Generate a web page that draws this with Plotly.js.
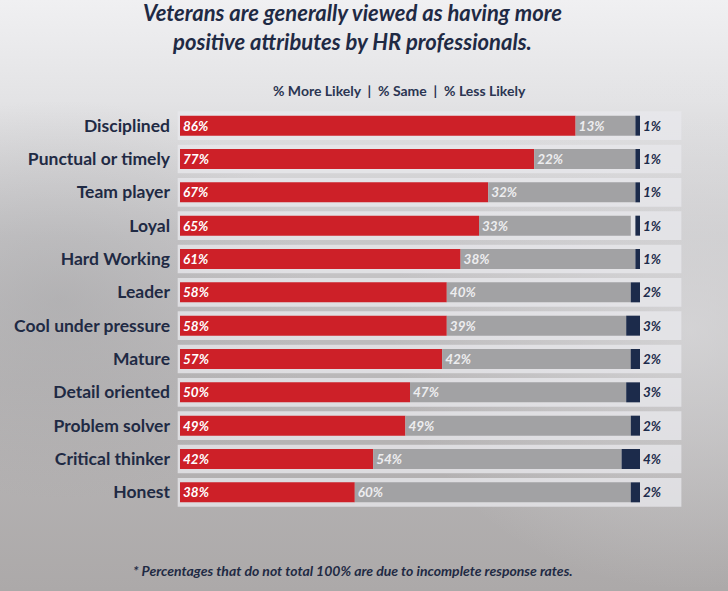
<!DOCTYPE html>
<html>
<head>
<meta charset="utf-8">
<script src="https://cdn.plot.ly/plotly-3.0.1.min.js"></script>
<style>
  html, body { margin: 0; padding: 0; }
  #chart {
    width: 728px; height: 591px;
    background:
      radial-gradient(ellipse 300px 260px at 690px 330px, rgba(225,225,227,0.6), rgba(225,225,227,0) 100%),
      radial-gradient(ellipse 260px 200px at 60px 300px, rgba(150,150,152,0.35), rgba(150,150,152,0) 100%),
      linear-gradient(to bottom, #f0f0f2 0%, #e3e3e5 17%, #c8c7c9 40%, #b9b7b8 65%, #aca9a9 100%);
  }
</style>
</head>
<body>
<div id="chart"></div>
<script>
const categories = ["Disciplined", "Punctual or timely", "Team player", "Loyal", "Hard Working", "Leader",
  "Cool under pressure", "Mature", "Detail oriented", "Problem solver", "Critical thinker", "Honest"];
const moreLikely = [86, 77, 67, 65, 61, 58, 58, 57, 50, 49, 42, 38];
const same = [13, 22, 32, 33, 38, 40, 39, 42, 47, 49, 54, 60];
const lessLikely = [1, 1, 1, 1, 1, 2, 3, 2, 3, 2, 4, 2];
const titleText = "Veterans are generally viewed as having more<br>positive attributes by HR professionals.";
const legendText = "% More Likely  |  % Same  |  % Less Likely";
const footnote = "* Percentages that do not total 100% are due to incomplete response rates.";

const RED = "#cd2028", GRAY = "#a2a2a4", NAVY = "#1c2b4b", TEXT = "#1f2a44";
const pct = v => v + "%";
const FONT = "Lato, 'Open Sans', sans-serif";

const traces = [
  {
    type: "bar", orientation: "h", y: categories, x: moreLikely,
    marker: { color: RED, line: { width: 0 } }, width: 0.6,
    text: moreLikely.map(pct), textposition: "inside", insidetextanchor: "start",
    textfont: { family: FONT, size: 13.5, color: "#ffffff", weight: 700, style: "italic" },
    constraintext: "none", cliponaxis: false, hoverinfo: "skip"
  },
  {
    type: "bar", orientation: "h", y: categories, x: same, base: moreLikely,
    marker: { color: GRAY, line: { width: 0 } }, width: 0.6,
    text: same.map(pct), textposition: "inside", insidetextanchor: "start",
    textfont: { family: FONT, size: 13.5, color: "#ededef", weight: 700, style: "italic" },
    constraintext: "none", cliponaxis: false, hoverinfo: "skip"
  },
  {
    type: "bar", orientation: "h", y: categories, x: lessLikely,
    base: lessLikely.map(v => 100 - v),
    marker: { color: NAVY, line: { width: 0 } }, width: 0.6,
    text: lessLikely.map(pct), textposition: "outside",
    textfont: { family: FONT, size: 13.5, color: NAVY, weight: 700, style: "italic" },
    constraintext: "none", cliponaxis: false, hoverinfo: "skip"
  }
];

const shapes = categories.map((c, i) => ({
  type: "rect", xref: "paper", yref: "y", layer: "below",
  x0: -0.005, x1: 1.09, y0: i - 0.43, y1: i + 0.43,
  fillcolor: "rgba(232,232,236,0.78)", line: { width: 0 }
}));

const layout = {
  width: 728, height: 591,
  margin: { l: 180, r: 88, t: 109, b: 82 },
  paper_bgcolor: "rgba(0,0,0,0)", plot_bgcolor: "rgba(0,0,0,0)",
  barmode: "overlay", showlegend: false,
  font: { family: FONT, color: TEXT },
  xaxis: { range: [0, 100], visible: false, fixedrange: true },
  yaxis: {
    type: "category", autorange: "reversed",
    showgrid: false, zeroline: false, showline: false, ticks: "",
    ticklabelstandoff: 9,
    tickfont: { family: FONT, size: 17.5, color: TEXT, weight: 700 }
  },
  shapes: shapes,
  annotations: [
    { text: titleText, xref: "paper", yref: "paper", x: 0.374, y: 1, yshift: 82,
      xanchor: "center", yanchor: "middle", showarrow: false, align: "center",
      font: { family: FONT, size: 22, color: TEXT, weight: 700, style: "italic" } },
    { text: legendText, xref: "paper", yref: "paper", x: 0.478, y: 1, yshift: 19,
      xanchor: "center", yanchor: "middle", showarrow: false,
      font: { family: FONT, size: 14, color: "#2b3552", weight: 700 } },
    { text: footnote, x: 0.376, xref: "paper", yref: "paper", y: 0, yshift: -61,
      xanchor: "center", yanchor: "middle", showarrow: false,
      font: { family: FONT, size: 14, color: TEXT, weight: 700, style: "italic" } }
  ]
};

Plotly.newPlot("chart", traces, layout, { displayModeBar: false, staticPlot: true });
</script>
</body>
</html>
